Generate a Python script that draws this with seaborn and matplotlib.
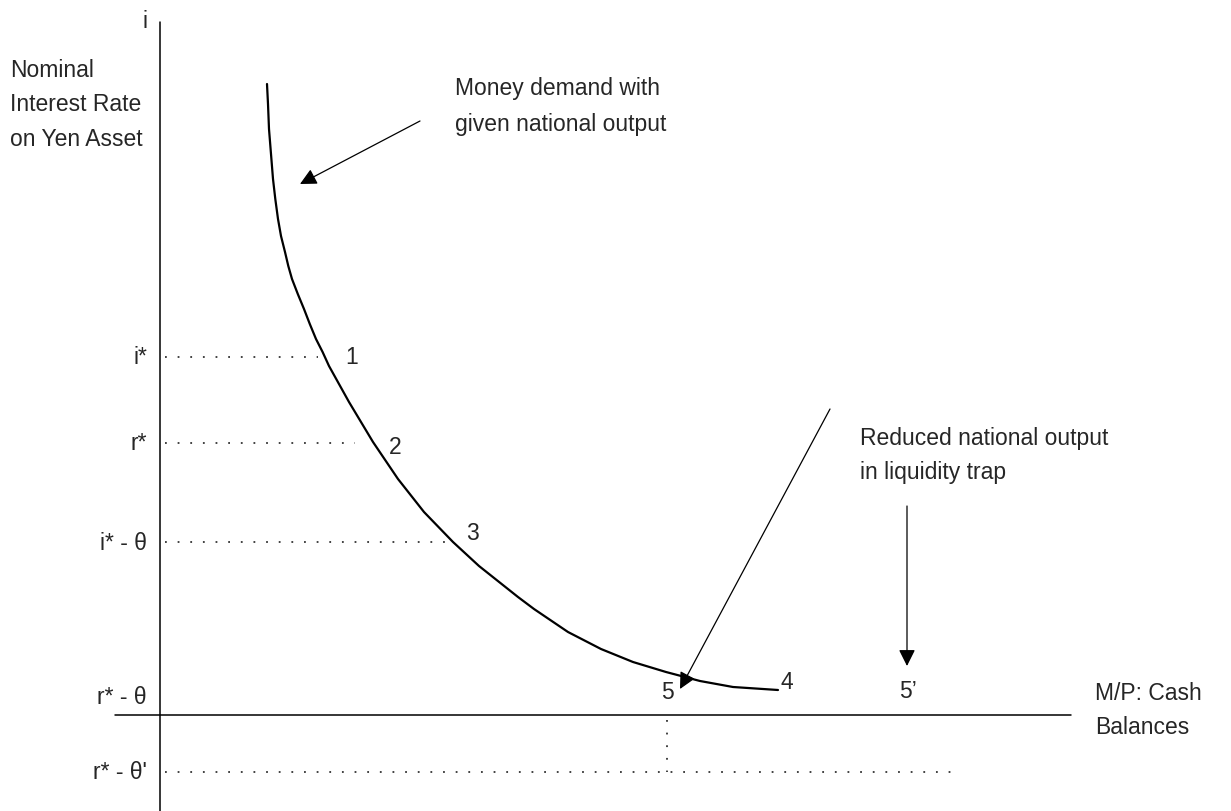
import pandas as pd
import seaborn as sns
import matplotlib
matplotlib.use("Agg")
import matplotlib.pyplot as plt

# money demand curve (x = M/P, y = i)
curve_x = [1.07, 1.08, 1.09, 1.11, 1.13, 1.153, 1.18, 1.21, 1.25, 1.283, 1.32, 1.378,
           1.44, 1.498, 1.56, 1.626, 1.69, 1.89, 2.13, 2.38, 2.64, 2.93, 3.19, 3.58,
           3.74, 4.08, 4.41, 4.73, 5.06, 5.40, 5.73, 6.18]
curve_y = [6.31, 6.11, 5.86, 5.61, 5.36, 5.16, 4.96, 4.79, 4.63, 4.49, 4.36, 4.21,
           4.06, 3.91, 3.76, 3.63, 3.49, 3.13, 2.73, 2.36, 2.03, 1.73, 1.49, 1.18,
           1.06, 0.83, 0.66, 0.53, 0.43, 0.34, 0.28, 0.25]

# interest rate levels and where their dotted guides end
level_names = ["i*", "r*", "i* - θ", "r* - θ'"]
level_y = [3.58, 2.72, 1.73, -0.57]
level_end_x = [1.58, 1.95, 2.90, 7.95]

# numbered points on the diagram
point_names = ["1", "2", "3", "4", "5", "5’"]
point_x = [1.92, 2.35, 3.12, 6.27, 5.07, 7.48]
point_y = [3.58, 2.69, 1.83, 0.33, 0.23, 0.24]

trap_x = 5.07  # M/P at point 5

sns.set_style("white")
plt.rcParams["font.family"] = ["Liberation Sans", "DejaVu Sans"]

fig = plt.figure(figsize=(12.31, 8.12), dpi=100)
ax = fig.add_axes([0, 0, 1, 1])
ax.set_xlim(-1.6, 10.71)
ax.set_ylim(-0.96, 7.16)
ax.axis("off")

fs = 16.5
dots = dict(color="#333333", lw=1.3, linestyle=(0, (1, 6)))

# axes of the diagram
ax.plot([0, 0], [-0.96, 6.93], color="black", lw=1.1)
ax.plot([-0.45, 9.11], [0, 0], color="black", lw=1.1)

# money demand curve
df = pd.DataFrame({"m": curve_x, "i": curve_y})
sns.lineplot(data=df, x="m", y="i", sort=False, color="black", lw=1.6, ax=ax)
ax.lines[-1].set_solid_joinstyle("round")

# dotted guides
for name, y, x_end in zip(level_names, level_y, level_end_x):
    ax.plot([0.05, x_end], [y, y], **dots)
    ax.text(-0.13, y, name, ha="right", va="center", fontsize=fs)
ax.plot([trap_x, trap_x], [-0.05, level_y[3]], **dots)
ax.text(-0.13, 0.18, "r* - θ", ha="right", va="center", fontsize=fs)

for name, x, y in zip(point_names, point_x, point_y):
    ax.text(x, y, name, ha="center", va="center", fontsize=fs)

# axis titles
ax.text(-0.15, 6.94, "i", ha="center", va="center", fontsize=fs)
for k, line in enumerate(["Nominal", "Interest Rate", "on Yen Asset"]):
    ax.text(-1.50, 6.46 - 0.345 * k, line, ha="left", va="center", fontsize=fs)
ax.text(9.35, 0.22, "M/P: Cash", ha="left", va="center", fontsize=fs)
ax.text(9.35, -0.12, "Balances", ha="left", va="center", fontsize=fs)

# annotations
arrow = dict(arrowstyle="-|>", color="black", lw=0.9, mutation_scale=25, shrinkA=0, shrinkB=0)
ax.text(2.95, 6.28, "Money demand with", ha="left", va="center", fontsize=fs)
ax.text(2.95, 5.92, "given national output", ha="left", va="center", fontsize=fs)
ax.annotate("", xy=(1.40, 5.31), xytext=(2.60, 5.94), arrowprops=arrow)

ax.text(7.00, 2.78, "Reduced national output", ha="left", va="center", fontsize=fs)
ax.text(7.00, 2.44, "in liquidity trap", ha="left", va="center", fontsize=fs)
ax.annotate("", xy=(5.20, 0.26), xytext=(6.70, 3.06), arrowprops=arrow)
ax.annotate("", xy=(7.47, 0.49), xytext=(7.47, 2.09), arrowprops=arrow)

fig.savefig("out.png", dpi=100)
